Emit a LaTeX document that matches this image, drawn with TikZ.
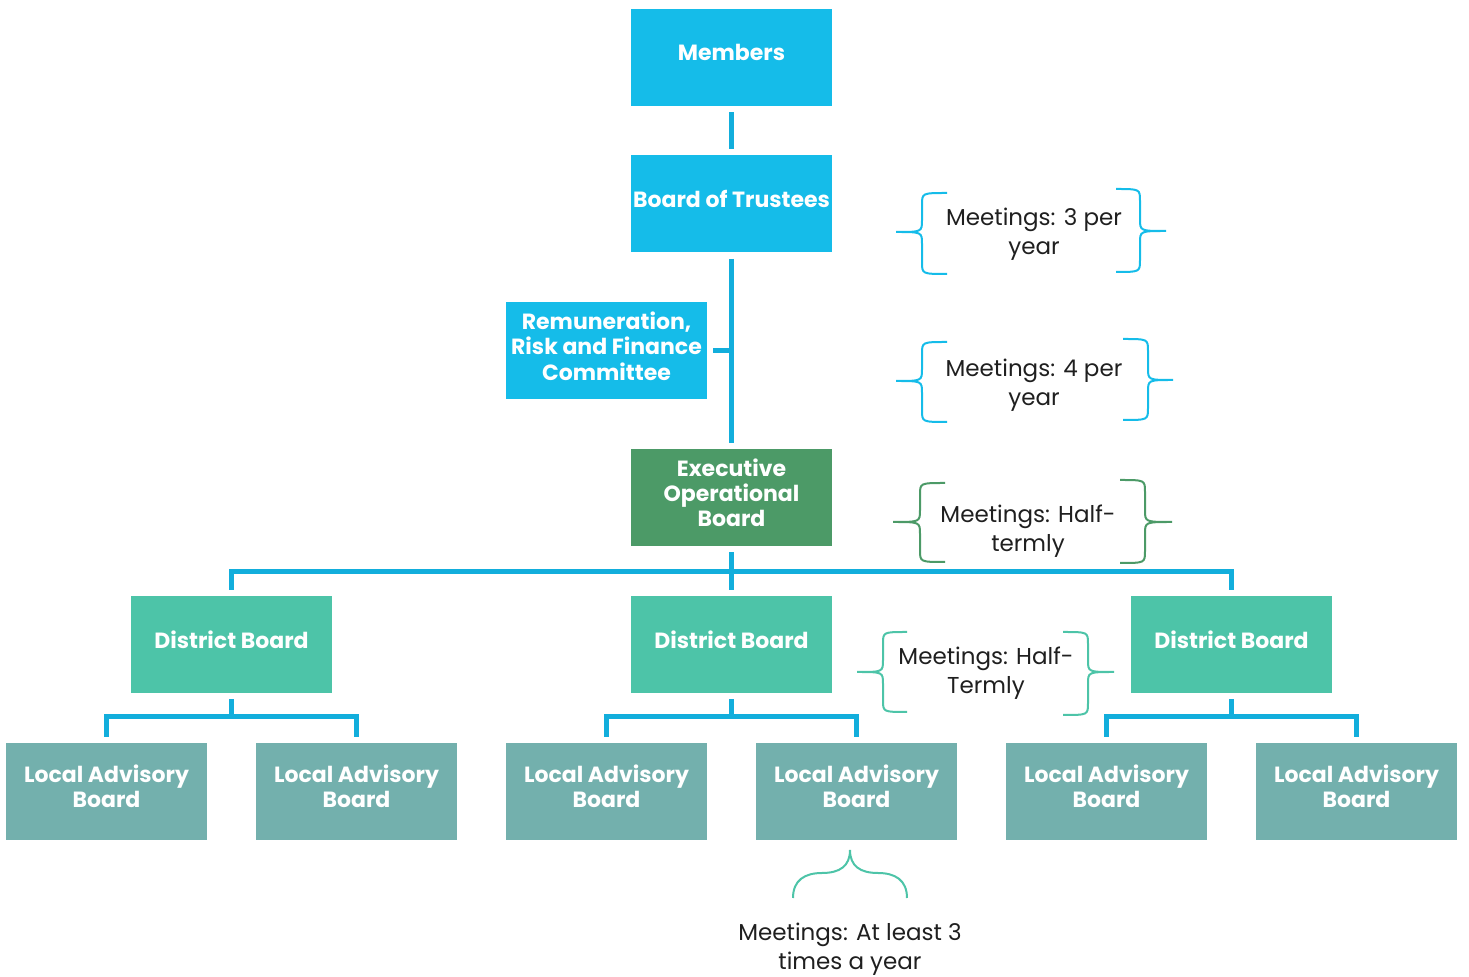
\documentclass[tikz,border=0pt]{standalone}
\usepackage{fontspec}
\setmainfont{Poppins}

\definecolor{trustblue}{HTML}{15BCE9}
\definecolor{linkblue}{HTML}{12AEDC}
\definecolor{execgreen}{HTML}{4C9A67}
\definecolor{distgreen}{HTML}{4DC4A8}
\definecolor{labteal}{HTML}{73B0AD}

\begin{document}
\begin{tikzpicture}[x=0.5pt,y=-0.5pt,
  box/.style={rectangle, minimum width=100.5pt, minimum height=48.5pt, inner sep=0pt,
    align=center, text depth=5pt, text=white, font=\bfseries\fontsize{11}{12.6}\selectfont},
  link/.style={draw=linkblue, line width=2.5pt, shorten <=3pt, shorten >=3pt},
  note/.style={align=center, text=black!88, font=\fontsize{11.5}{14.5}\selectfont},
  curl/.style={line width=1pt}]
	\useasboundingbox (0,0) rectangle (1469,977);

            % governance chain
            \node[box, fill=trustblue] (mem) at (731.5,57.5) {Members};
            \node[box, fill=trustblue] (bot) at (731.5,204) {Board of Trustees};
            \node[box, fill=trustblue] (rrf) at (606.5,351) {Remuneration,\\Risk and Finance\\Committee};
            \node[box, fill=execgreen] (exe) at (731.5,497.5) {Executive\\Operational\\Board};

            \foreach \n/\x in {d1/231.5,d2/731.5,d3/1231.5}{
              \node[box, fill=distgreen] (\n) at (\x,644.5) {District Board};
            }
            \foreach \n/\x in {l1/106.5,l2/356.5,l3/606.5,l4/856.5,l5/1106.5,l6/1356.5}{
              \node[box, fill=labteal] (\n) at (\x,791.5) {Local Advisory\\Board};
            }

            \draw[link] (mem) -- (bot);
            \draw[link] (bot) -- (exe);
            \draw[link, shorten >=0pt] (rrf) -- (rrf -| bot);
            \draw[link] (exe) -- (d2);
            \draw[link] (d1.north) -- ++(0,-24) -| (d3.north);

            \foreach \d/\l/\r in {d1/l1/l2,d2/l3/l4,d3/l5/l6}{
              \draw[link, shorten >=0pt] (\d.south) -- ++(0,24);
              \draw[link] (\l.north) -- ++(0,-26) -| (\r.north);
            }

            % braces round the meeting notes
            \foreach \t/\v/\e/\a/\m/\b/\c in {896/922/947/193/232/274/trustblue,
                1166/1140/1116/189/231/272/trustblue,
                896/922/947/342/381/422/trustblue,
                1173/1148/1123/339/380/420/trustblue,
                893/920/945/483/522/562/execgreen,
                1172/1145/1120/480/522/563/execgreen,
                857/883/907/632/672/712/distgreen,
                1114/1088/1063/632/672/715/distgreen}{
              \draw[curl, draw=\c] (\e,\a) .. controls (\v,\a) .. (\v,\a+12) -- (\v,\m-12)
                .. controls (\v,\m) .. (\t,\m) .. controls (\v,\m) .. (\v,\m+12)
                -- (\v,\b-12) .. controls (\v,\b) .. (\e,\b);
            }
            \draw[curl, draw=distgreen] (793,898) .. controls (793,880) and (805,873) .. (822,873)
              .. controls (840,873) and (850,866) .. (850,850)
              .. controls (850,866) and (860,873) .. (878,873)
              .. controls (895,873) and (907,880) .. (907,898);

            \node[note] (n1) at (1034,234) {Meetings: 3 per\\year};
            \node[note] (n2) at (1034,385) {Meetings: 4 per\\year};
            \node[note] (n3) at (1028,531) {Meetings: Half-\\termly};
            \node[note] (n4) at (986,673) {Meetings: Half-\\Termly};
            \node[note] (n5) at (850,949) {Meetings: At least 3\\times a year};
        \end{tikzpicture}
\end{document}
